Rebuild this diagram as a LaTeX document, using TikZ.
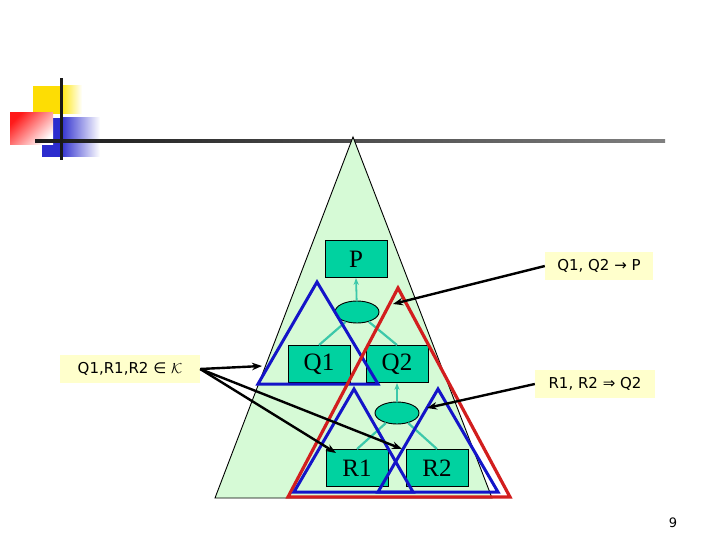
\documentclass[tikz,border=0pt]{standalone}
\usepackage{fontspec}
\setmainfont{Liberation Serif}
\newfontfamily\lab{DejaVu Sans}
\usetikzlibrary{shapes.geometric,arrows.meta}
\definecolor{bg}{RGB}{214,250,214}
\definecolor{tq}{RGB}{0,210,160}
\definecolor{tqline}{RGB}{60,200,170}
\definecolor{bl}{RGB}{20,20,200}
\definecolor{rd}{RGB}{210,30,30}
\definecolor{lbl}{RGB}{255,255,204}
\tikzset{
 box/.style={draw,fill=tq,font=\fontsize{25}{25}\selectfont,minimum width=62pt,minimum height=37pt,inner sep=0},
 lbox/.style={fill=lbl,font=\lab\fontsize{15}{15}\selectfont,inner sep=3pt,minimum height=28pt},
 oval/.style={draw,fill=tq,ellipse,minimum width=44pt,minimum height=22pt,inner sep=0},
 conn/.style={tqline,line width=2.2pt},
 up/.style={tqline,line width=1.8pt,-{Stealth[length=7pt]}},
 btri/.style={bl,line width=3pt,line join=miter},
 rtri/.style={rd,line width=3.2pt,line join=miter},
 pt/.style={black,line width=2.4pt,-{Stealth[length=10pt]}}
}
\begin{document}
\begin{tikzpicture}[x=1pt,y=-1pt]
\useasboundingbox (0,0) rectangle (720,540);
% logo
\fill[yellow!80!orange] (33,86) rectangle (60,114);
\shade[left color=yellow!80!orange,right color=white] (60,86) rectangle (82,114);
\shade[left color=bl!90,right color=white] (60,118) rectangle (100,157);
\fill[bl!90] (42,118) rectangle (60,157);
\shade[top color=red!90,bottom color=white,shading angle=45] (10,113) rectangle (53,145);
\shade[left color=black!90,right color=black!50] (35,140) rectangle (665,143);
\fill[black!90] (59.5,78) rectangle (63,160);
% big triangle
\draw[fill=bg,line width=0.9pt] (353,137) -- (215,498) -- (492,498) -- cycle;
% nodes
\node[box,line width=0.9pt] (P) at (356,259) {P};
\node[oval,line width=0.9pt] (E1) at (357,312) {};
\node[box,line width=0.9pt] (Q1) at (319,364) {Q1};
\node[box,line width=0.9pt] (Q2) at (397,364) {Q2};
\node[oval,line width=0.9pt] (E2) at (397,413) {};
\node[box,line width=0.9pt] (R1) at (357,468) {R1};
\node[box,line width=0.9pt] (R2) at (437,468) {R2};
\draw[conn] (E1) -- (Q1.north);
\draw[conn] (E1) -- (Q2.north);
\draw[up] (E1) -- (P.south);
\draw[conn] (E2) -- (R1.north);
\draw[conn] (E2) -- (R2.north);
\draw[up] (E2) -- (Q2.south);
% triangles
\draw[btri] (317,282) -- (258,384) -- (378,384) -- cycle;
\draw[rtri] (398,288) -- (288,497) -- (510,497) -- cycle;
\draw[btri] (354,389) -- (294,492) -- (413,492) -- cycle;
\draw[btri] (438,389) -- (378,492) -- (498,492) -- cycle;
% labels
\node[lbox,minimum width=108pt] (L1) at (599,266) {Q1, Q2 → P};
\node[lbox,minimum width=120pt] (L2) at (595,384) {R1, R2 ⇒ Q2};
\node[lbox,minimum width=140pt] (L3) at (130,369) {Q1,R1,R2 ∈ $\mathcal{K}$};
\coordinate (a1) at (393,304);
\coordinate (a2) at (427,408);
\coordinate (a3) at (262,366);
\coordinate (a4) at (336,453);
\coordinate (a5) at (402,449);
\draw[pt] (L1.west) -- (a1);
\draw[pt] (L2.west) -- (a2);
\draw[pt] (L3.east) -- (a3);
\draw[pt] (L3.east) -- (a4);
\draw[pt] (L3.east) -- (a5);
\node[font=\lab\fontsize{13}{13}\selectfont] (pg) at (673,523) {9};
\end{tikzpicture}
\end{document}
